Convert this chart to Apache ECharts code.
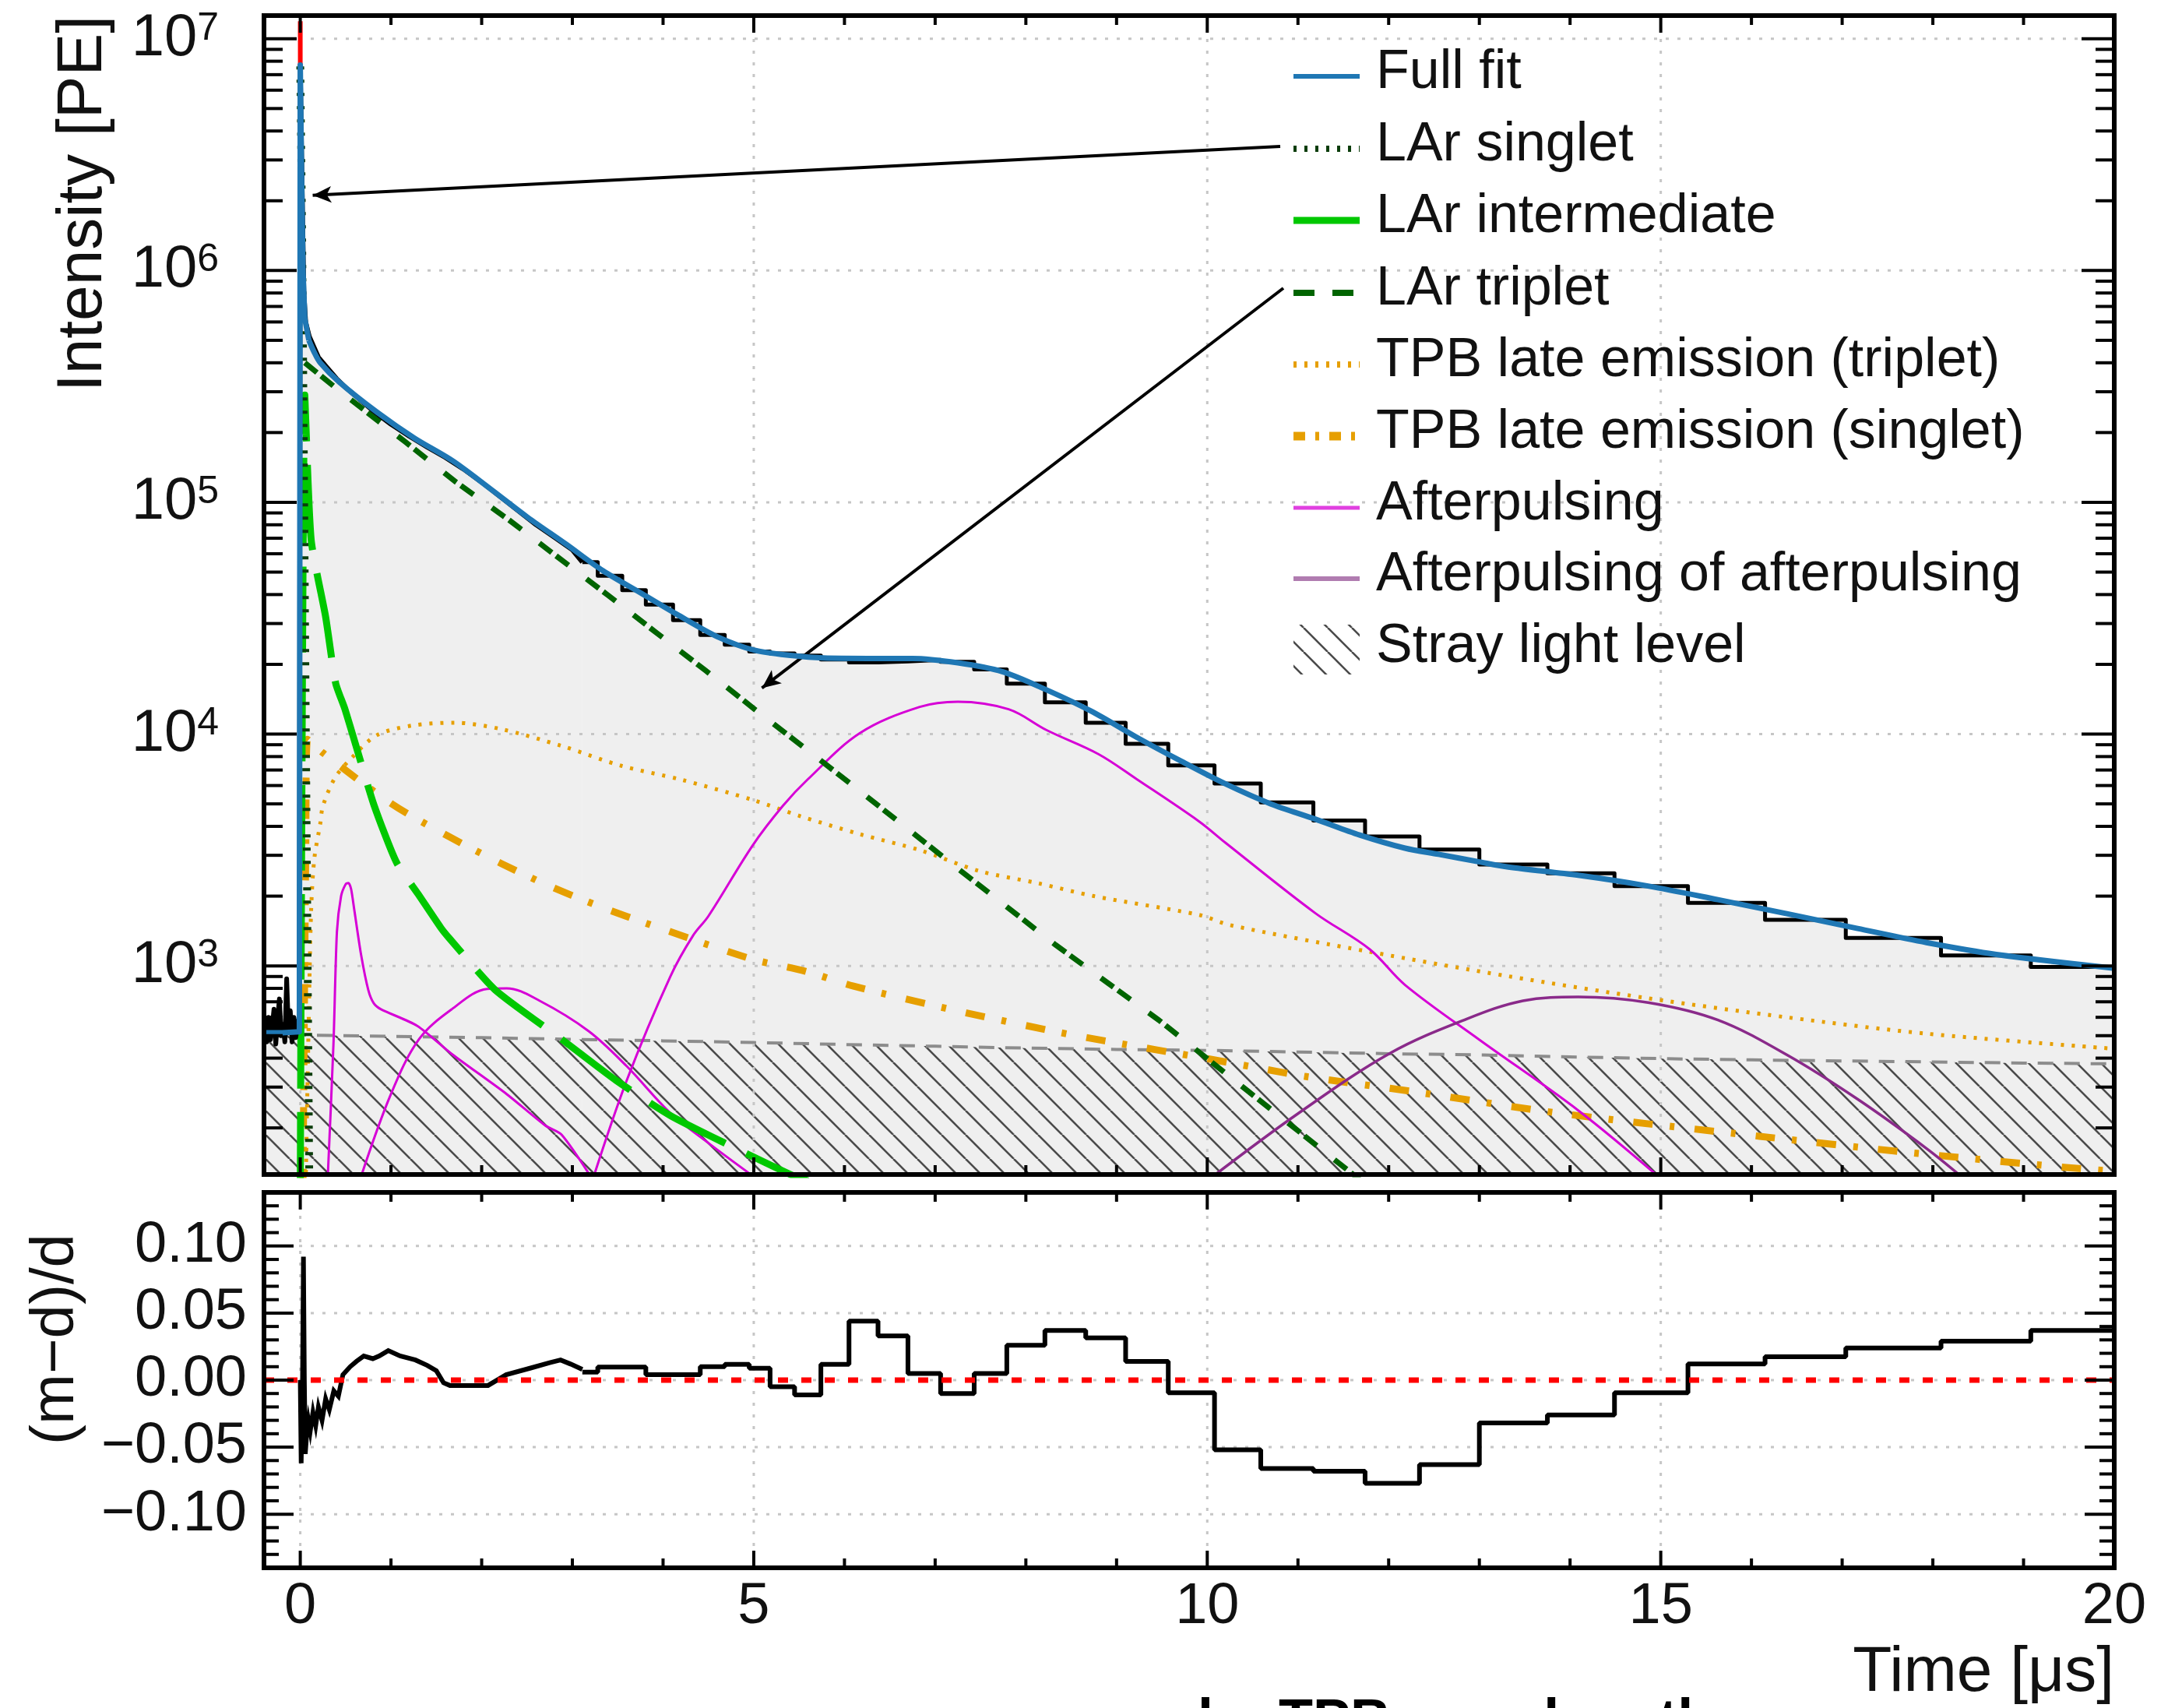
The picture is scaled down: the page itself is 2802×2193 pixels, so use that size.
<!DOCTYPE html>
<html><head><meta charset="utf-8">
<script src="https://cdn.jsdelivr.net/npm/echarts@6/dist/echarts.min.js"></script>
<style>html,body{margin:0;padding:0;background:#fff}#c{width:2802px;height:2193px}</style>
</head><body><div id="c"></div>
<script>
// ---------------- data ----------------
const xTickLabels = [0, 5, 10, 15, 20];
const yDecades = [3, 4, 5, 6, 7];
const resTickLabels = [-0.10, -0.05, 0.00, 0.05, 0.10];
const legendLabels = ['Full fit', 'LAr singlet', 'LAr intermediate', 'LAr triplet',
  'TPB late emission (triplet)', 'TPB late emission (singlet)', 'Afterpulsing',
  'Afterpulsing of afterpulsing', 'Stray light level'];

// full fit (two parts: pulse + tail)
const fitHeadX = [-0.40, -0.20, -0.01, 0.00, 0.015, 0.03, 0.05, 0.095];
const fitHeadY = [515, 515, 520, 7.7e6, 2.5e6, 1.0e6, 6.2e5, 5.0e5];
const fitTailX = [0.095, 0.15, 0.22, 0.43, 0.845, 1.26, 1.68, 2.10, 2.51, 2.93, 3.34, 3.76, 4.18, 4.60, 5.01, 5.43, 5.77, 6.26, 6.75, 7.25, 7.74, 8.23, 8.73, 9.22, 9.71, 10.20, 10.70, 11.19, 11.68, 12.18, 12.55, 13.00, 13.32, 14.09, 14.86, 15.63, 16.39, 17.17, 17.93, 18.70, 20.00];
const fitTailY = [5.0e5, 4.47e5, 4.0e5, 3.3e5, 2.45e5, 1.89e5, 1.51e5, 1.14e5, 8.6e4, 6.6e4, 5.06e4, 4.05e4, 3.24e4, 2.63e4, 2.3e4, 2.18e4, 2.13e4, 2.12e4, 2.12e4, 2.03e4, 1.86e4, 1.55e4, 1.25e4, 9.7e3, 7.65e3, 6.1e3, 5.0e3, 4.3e3, 3.67e3, 3.22e3, 3.03e3, 2.81e3, 2.67e3, 2.46e3, 2.21e3, 1.93e3, 1.68e3, 1.45e3, 1.26e3, 1.12e3, 977];
const peakTopX = [0.0, 0.0];
const peakTopY = [7.7e6, 1.19e7];

// measured data: fine-binned early part, then coarse bins (edges + contents)
const dataEarlyX = [-0.40, -0.37, -0.35, -0.33, -0.31, -0.29, -0.27, -0.25, -0.23, -0.21, -0.19, -0.17, -0.15, -0.13, -0.11, -0.09, -0.07, -0.05, -0.03, -0.01, 0.00, 0.02, 0.04, 0.06, 0.10, 0.20, 0.30, 0.40, 0.50, 0.60, 0.70, 0.80, 0.90, 1.00, 1.20, 1.40, 1.60, 1.80, 2.00, 2.20, 2.40, 2.60, 2.80, 3.00, 3.11];
const dataEarlyY = [560, 470, 600, 480, 540, 650, 460, 590, 720, 500, 560, 470, 880, 520, 640, 470, 600, 490, 560, 600, 7.7e6, 2.4e6, 8.0e5, 6.0e5, 5.2e5, 4.23e5, 3.8e5, 3.42e5, 3.13e5, 2.9e5, 2.68e5, 2.49e5, 2.32e5, 2.17e5, 1.93e5, 1.73e5, 1.56e5, 1.39e5, 1.22e5, 1.06e5, 9.2e4, 8.0e4, 7.07e4, 6.23e4, 5.52e4];
const dataBinEdges = [3.11, 3.28, 3.55, 3.81, 4.11, 4.41, 4.68, 4.95, 5.18, 5.45, 5.74, 6.05, 6.37, 6.70, 7.06, 7.43, 7.79, 8.21, 8.66, 9.10, 9.57, 10.08, 10.59, 11.17, 11.74, 12.34, 13.00, 13.75, 14.49, 15.30, 16.15, 17.04, 18.09, 19.08, 20.0];
const dataBinVals = [55200, 48200, 41800, 36200, 31000, 26800, 24300, 22700, 22300, 21800, 21000, 20400, 20600, 20900, 20500, 19000, 16500, 13700, 11200, 9080, 7330, 6120, 5070, 4240, 3620, 3180, 2740, 2510, 2210, 1870, 1580, 1320, 1110, 990];

// fit components
const singletX = [0.00, 0.02, 0.04, 0.06, 0.08, 0.10];
const singletY = [7.6e6, 1.5e6, 1.5e5, 1.2e4, 1.2e3, 110];
const intermX = [0.00, 0.05, 0.12, 0.28, 0.39, 0.49, 0.60, 0.81, 1.06, 1.30, 1.55, 1.64, 2.15, 2.88, 3.48, 4.08, 4.68, 5.44, 5.60];
const intermY = [100, 2.9e5, 6.9e4, 3.2e4, 1.66e4, 1.29e4, 9.3e3, 4.98e3, 2.8e3, 2.04e3, 1.46e3, 1.32e3, 787, 483, 321, 226, 172, 124, 118];
const tripletX = [0.05, 0.43, 1.16, 1.72, 2.30, 2.84, 3.39, 3.93, 4.47, 5.01, 6.07, 7.25, 8.33, 9.47, 10.45, 10.94, 11.63, 12.00];
const tripletY = [4.0e5, 3.03e5, 1.82e5, 1.22e5, 8.4e4, 5.8e4, 3.98e4, 2.73e4, 1.88e4, 1.28e4, 6.1e3, 2.63e3, 1.23e3, 582, 288, 203, 124, 95];
const tpbTripX = [0.06, 0.09, 0.12, 0.155, 0.22, 0.25, 0.385, 0.58, 0.845, 1.24, 1.70, 2.22, 2.88, 3.54, 4.20, 4.99, 5.51, 6.17, 6.83, 7.48, 8.14, 8.75, 9.91, 10.25, 11.79, 13.32, 14.86, 16.39, 17.93, 20.0];
const tpbTripY = [115, 500, 1750, 2900, 4100, 4900, 6500, 8000, 9900, 10900, 11200, 10500, 8900, 7300, 6360, 5200, 4430, 3700, 3160, 2570, 2270, 2000, 1660, 1500, 1150, 902, 725, 600, 510, 439];
const tpbSingX = [0.03, 0.06, 0.08, 0.25, 1.01, 1.63, 2.22, 2.76, 3.31, 3.87, 4.98, 5.57, 6.10, 7.22, 8.30, 8.87, 10.0, 10.56, 11.09, 12.24, 13.86, 16.09, 17.78, 19.47, 20.0];
const tpbSingY = [110, 3000, 9500, 8300, 5000, 3630, 2760, 2200, 1800, 1500, 1070, 948, 818, 643, 523, 475, 398, 363, 333, 288, 232, 184, 156, 135, 130];
const ap1X = [0.30, 0.366, 0.404, 0.45, 0.50, 0.53, 0.56, 0.595, 0.67, 0.75, 0.81, 0.89, 1.29, 1.67, 2.275, 2.70, 2.88, 3.21];
const ap1Y = [115, 460, 1400, 2000, 2250, 2280, 2150, 1750, 1120, 787, 690, 650, 551, 417, 280, 205, 187, 122];
const ap2X = [0.66, 1.00, 1.31, 1.67, 2.06, 2.275, 2.64, 3.18, 3.60, 4.08, 4.50, 5.04];
const ap2Y = [120, 280, 483, 650, 795, 800, 707, 523, 369, 232, 172, 120];
const ap3X = [3.21, 3.60, 4.08, 4.33, 4.50, 4.99, 5.32, 5.59, 6.17, 6.83, 7.25, 7.81, 8.23, 8.80, 9.22, 9.91, 10.20, 11.19, 11.79, 12.18, 13.00, 14.09, 15.01];
const ap3Y = [115, 321, 900, 1350, 1640, 3320, 4900, 6350, 1.01e4, 1.31e4, 1.38e4, 1.28e4, 1.04e4, 8.2e3, 6.4e3, 4.2e3, 3.4e3, 1.69e3, 1.18e3, 828, 480, 238, 120];
const aoaX = [10.02, 11.01, 12.02, 12.86, 13.48, 14.09, 14.86, 15.63, 16.40, 17.17, 17.93, 18.35];
const aoaY = [120, 232, 421, 590, 707, 735, 695, 584, 411, 266, 163, 120];
const strayX = [-0.4, 0, 1, 2, 3, 4, 5, 6, 7, 8, 9, 10, 11, 12, 13, 14, 15, 16, 17, 18, 19, 20];
const strayY = [505, 503, 497, 490, 482, 475, 467, 458, 450, 442, 436, 432, 425, 418, 413, 405, 398, 393, 389, 385, 381, 378];

// residuals (m-d)/d
const resEarlyX = [0.000, 0.010, 0.025, 0.035, 0.045, 0.055, 0.07, 0.09, 0.11, 0.14, 0.17, 0.20, 0.24, 0.28, 0.32, 0.37, 0.42, 0.47, 0.55, 0.62, 0.70, 0.80, 0.87, 0.97, 1.10, 1.27, 1.40, 1.50, 1.58, 1.65, 2.07, 2.27, 2.54, 2.75, 2.87, 2.98, 3.11];
const resEarlyY = [0.000, -0.062, 0.000, 0.092, 0.000, -0.055, -0.041, -0.030, -0.038, -0.024, -0.034, -0.020, -0.030, -0.014, -0.022, -0.008, -0.012, 0.004, 0.010, 0.014, 0.018, 0.016, 0.018, 0.022, 0.018, 0.015, 0.011, 0.007, -0.002, -0.004, -0.004, 0.004, 0.009, 0.013, 0.015, 0.012, 0.008];
const resBinEdges = [3.11, 3.28, 3.81, 4.41, 4.68, 4.95, 5.18, 5.45, 5.74, 6.05, 6.37, 6.70, 7.06, 7.43, 7.79, 8.21, 8.66, 9.10, 9.57, 10.08, 10.59, 11.17, 11.74, 12.34, 13.00, 13.75, 14.49, 15.30, 16.15, 17.04, 18.09, 19.08, 20.0];
const resBinVals = [0.006, 0.0097, 0.004, 0.010, 0.0117, 0.0088, -0.005, -0.011, 0.0117, 0.044, 0.033, 0.005, -0.010, 0.005, 0.026, 0.037, 0.0315, 0.014, -0.0095, -0.052, -0.066, -0.068, -0.077, -0.063, -0.032, -0.026, -0.0095, 0.012, 0.0175, 0.024, 0.029, 0.037];

// annotation arrow tips (data coordinates)
const arrowTipX = [0.137, 5.09];
const arrowTipY = [2.11e6, 1.58e4];

// ---------------- helpers ----------------
const FONT = 'Liberation Sans';
const X_MIN = -0.4, X_MAX = 20;
const Y_MIN = Math.pow(10, 2.1), Y_MAX = Math.pow(10, 7.1);
const R_MIN = -0.14, R_MAX = 0.14;
const zip = (xs, ys) => xs.map((x, i) => [x, ys[i]]);
const steps = (edges, vals) => edges.map((e, i) => [e, vals[Math.min(i, vals.length - 1)]]);

const BLUE = '#1f77b4', GREEN_I = '#00c800', GREEN_T = '#006400', SINGLET = '#0b3d0b',
      ORANGE = '#e69f00', MAGENTA = '#d600d6', PURPLE = '#8a2a8a';

function makeHatch() {
  const s = 31, c = document.createElement('canvas');
  c.width = s; c.height = s;
  const g = c.getContext('2d');
  g.strokeStyle = '#4a4a4a'; g.lineWidth = 2.6;
  [-s, 0, s].forEach(o => { g.beginPath(); g.moveTo(o, 0); g.lineTo(o + s, s); g.stroke(); });
  return c;
}
const hatchCanvas = makeHatch();
const hatchFill = () => ({ type: 'pattern', image: hatchCanvas, repeat: 'repeat' });

function ln(x1, y1, x2, y2, style) { return { type: 'line', shape: { x1, y1, x2, y2 }, style }; }

function line(name, xs, ys, ls, extra) {
  return Object.assign({
    type: 'line', name, xAxisIndex: 0, yAxisIndex: 0, data: zip(xs, ys),
    showSymbol: false, symbol: 'none', silent: true, z: 3,
    lineStyle: Object.assign({ cap: 'butt', join: 'round' }, ls)
  }, extra || {});
}

// gridlines
function gridDeco(top) {
  return function (params, api) {
    const cs = params.coordSys, L = cs.x, T = cs.y, R = cs.x + cs.width, B = cs.y + cs.height;
    const ch = [];
    const st = () => ({ stroke: '#c6c6c6', lineWidth: 3, lineDash: [4, 11] });
    if (top) {
      yDecades.forEach(e => { const y = api.coord([X_MIN, Math.pow(10, e)])[1]; ch.push(ln(L, y, R, y, st())); });
      xTickLabels.forEach(v => { const x = api.coord([v, Y_MIN])[0]; ch.push(ln(x, T, x, B, st())); });
    } else {
      resTickLabels.forEach(v => { const y = api.coord([X_MIN, v])[1]; ch.push(ln(L, y, R, y, st())); });
      xTickLabels.forEach(v => { const x = api.coord([v, R_MIN])[0]; ch.push(ln(x, T, x, B, st())); });
    }
    return { type: 'group', children: ch };
  };
}
// frame and inside ticks
function frameTicks(top) {
  return function (params, api) {
    const cs = params.coordSys, L = cs.x, T = cs.y, R = cs.x + cs.width, B = cs.y + cs.height;
    const ch = [];
    const st = () => ({ stroke: '#000', lineWidth: 4 });
    const yRef = top ? Y_MIN : R_MIN;
    for (let v = 0; v <= 20; v++) {
      const x = api.coord([v, yRef])[0], len = v % 5 === 0 ? 22 : 12;
      ch.push(ln(x, B, x, B - len, st())); ch.push(ln(x, T, x, T + len, st()));
    }
    if (top) {
      for (let n = 2; n <= 7; n++) for (let k = 1; k <= 9; k++) {
        const v = k * Math.pow(10, n);
        if (v < Y_MIN || v > Y_MAX) continue;
        const y = api.coord([X_MIN, v])[1], len = k === 1 ? 42 : 24;
        ch.push(ln(L, y, L + len, y, st())); ch.push(ln(R, y, R - len, y, st()));
      }
    } else {
      for (let c = -14; c <= 14; c++) {
        const y = api.coord([X_MIN, c / 100])[1], len = c % 5 === 0 ? 38 : 19;
        ch.push(ln(L, y, L + len, y, st())); ch.push(ln(R, y, R - len, y, st()));
      }
    }
    ch.push({ type: 'rect', shape: { x: L, y: T, width: R - L, height: B - T }, style: { fill: null, stroke: '#000', lineWidth: 6 } });
    return { type: 'group', children: ch };
  };
}

// ---------------- legend (graphic) ----------------
const legendRowY = [98, 191, 283, 376, 468, 560, 652, 743, 835];
const legendStyles = [
  { stroke: BLUE, w: 6 },
  { stroke: SINGLET, w: 8, dash: [4, 10] },
  { stroke: GREEN_I, w: 9 },
  { stroke: GREEN_T, w: 8, dash: [27, 23] },
  { stroke: ORANGE, w: 8, dash: [4, 10] },
  { stroke: ORANGE, w: 11, dash: [15, 13, 5, 13] },
  { stroke: '#e040e0', w: 5 },
  { stroke: '#b07cb0', w: 6 },
  { hatch: true }
];
const graphics = [];
legendLabels.forEach((t, i) => {
  const y = legendRowY[i], s = legendStyles[i];
  if (s.hatch) {
    graphics.push({ type: 'rect', shape: { x: 1661, y: y - 33, width: 85, height: 64 }, style: { fill: hatchFill() }, z: 20 });
  } else {
    graphics.push({ type: 'line', shape: { x1: 1661, y1: y, x2: 1746, y2: y }, style: { stroke: s.stroke, lineWidth: s.w, lineDash: s.dash || null }, z: 20 });
  }
  graphics.push({ type: 'text', x: 1767, y: y - 4, z: 20, style: { text: t, font: '70px "' + FONT + '"', fill: '#111', align: 'left', verticalAlign: 'middle', textAlign: 'left', textVerticalAlign: 'middle' } });
});
graphics.push({ type: 'text', x: 107, y: 20, rotation: Math.PI / 2, z: 20,
  style: { text: 'Intensity [PE]', font: '82px "' + FONT + '"', fill: '#111', align: 'right', verticalAlign: 'middle', textAlign: 'right', textVerticalAlign: 'middle' } });
graphics.push({ type: 'text', x: 72, y: 1584, rotation: Math.PI / 2, z: 20,
  style: { text: '(m\u2212d)/d', font: '78px "' + FONT + '"', fill: '#111', align: 'right', verticalAlign: 'middle', textAlign: 'right', textVerticalAlign: 'middle' } });
graphics.push({ type: 'text', x: 2715, y: 2148, z: 20,
  style: { text: 'Time [\u03bcs]', font: '82px "' + FONT + '"', fill: '#111', align: 'right', verticalAlign: 'middle', textAlign: 'right', textVerticalAlign: 'middle' } });
graphics.push({ type: 'text', x: 1538, y: 2176, z: 20,
  style: { text: 'by TPB wavelength', font: 'bold 72px "' + FONT + '"', fill: '#000', align: 'left', verticalAlign: 'top', textAlign: 'left', textVerticalAlign: 'top' } });

// ---------------- chart ----------------
const chart = echarts.init(document.getElementById('c'), null, { renderer: 'canvas' });
const axisOff = { axisLine: { show: false }, axisTick: { show: false }, splitLine: { show: false }, minorTick: { show: false } };

const option = {
  animation: false,
  backgroundColor: '#fff',
  grid: [
    { left: 339, top: 20, width: 2376, height: 1488 },
    { left: 339, top: 1531, width: 2376, height: 482 }
  ],
  xAxis: [
    Object.assign({ gridIndex: 0, type: 'value', min: X_MIN, max: X_MAX, axisLabel: { show: false } }, axisOff),
    Object.assign({ gridIndex: 1, type: 'value', min: X_MIN, max: X_MAX, minInterval: 5, maxInterval: 5,
      axisLabel: { show: true, margin: 14, fontSize: 74, fontFamily: FONT, color: '#111',
        formatter: v => (xTickLabels.some(t => Math.abs(t - v) < 1e-6) ? String(Math.round(v)) : '') } }, axisOff)
  ],
  yAxis: [
    Object.assign({ gridIndex: 0, type: 'log', logBase: 10, min: Y_MIN, max: Y_MAX,
      axisLabel: { show: true, margin: 58, color: '#111',
        formatter: v => { const e = Math.log10(v); const r = Math.round(e);
          return (Math.abs(e - r) < 1e-6 && yDecades.indexOf(r) >= 0) ? '{b|10}{s|' + r + '}' : ''; },
        rich: {
          b: { fontSize: 76, fontFamily: FONT, color: '#111', lineHeight: 76, verticalAlign: 'bottom' },
          s: { fontSize: 50, fontFamily: FONT, color: '#111', lineHeight: 75, verticalAlign: 'top', padding: [0, 0, 25, 0] }
        } } }, axisOff),
    Object.assign({ gridIndex: 1, type: 'value', min: R_MIN, max: R_MAX, minInterval: 0.05, maxInterval: 0.05,
      axisLabel: { show: true, margin: 22, fontSize: 74, fontFamily: FONT, color: '#111',
        formatter: v => { const c = Math.round(v * 100);
          if (Math.abs(v * 100 - c) > 1e-6 || c % 5 !== 0 || Math.abs(c) > 10) return '';
          return (c < 0 ? '\u2212' : '') + (Math.abs(c) / 100).toFixed(2); } } }, axisOff)
  ],
  graphic: { elements: graphics },
  series: [
    // grey area under the data
    line('data area early', dataEarlyX, dataEarlyY, { width: 0, color: '#efefef' },
      { z: 1, areaStyle: { color: '#efefef', opacity: 1, origin: 'start' } }),
    Object.assign(line('data area bins', [], [], { width: 0, color: '#efefef' },
      { z: 1, step: 'end', areaStyle: { color: '#efefef', opacity: 1, origin: 'start' } }), { data: steps(dataBinEdges, dataBinVals) }),
    // stray light level (hatched)
    line('Stray light level', strayX, strayY, { color: '#8c8c8c', width: 4, type: [20, 14] },
      { z: 1, areaStyle: { color: hatchFill(), opacity: 1, origin: 'start' } }),
    // gridlines
    { type: 'custom', xAxisIndex: 0, yAxisIndex: 0, data: [[0, 1000]], renderItem: gridDeco(true), z: 2, silent: true },
    { type: 'custom', xAxisIndex: 1, yAxisIndex: 1, data: [[0, 0]], renderItem: gridDeco(false), z: 2, silent: true },
    // components
    line('TPB late emission (triplet)', tpbTripX, tpbTripY, { color: ORANGE, width: 5, type: [4, 10] }, { smooth: 0.3 }),
    line('TPB late emission (singlet)', tpbSingX, tpbSingY, { color: ORANGE, width: 9, type: [25, 22, 6, 26] }, { smooth: 0.3 }),
    line('Afterpulsing', ap1X, ap1Y, { color: MAGENTA, width: 3 }, { smooth: 0.25 }),
    line('Afterpulsing 2', ap2X, ap2Y, { color: MAGENTA, width: 3 }, { smooth: 0.35 }),
    line('Afterpulsing 3', ap3X, ap3Y, { color: MAGENTA, width: 3 }, { smooth: 0.35 }),
    line('Afterpulsing of afterpulsing', aoaX, aoaY, { color: PURPLE, width: 3.5 }, { smooth: 0.35 }),
    line('LAr intermediate', intermX, intermY, { color: GREEN_I, width: 9, type: [110, 30] }, { smooth: 0.2 }),
    line('LAr triplet', tripletX, tripletY, { color: GREEN_T, width: 7, type: [20, 7, 20, 29] }),
    line('LAr singlet', singletX, singletY, { color: SINGLET, width: 10, type: [4, 13] }),
    // data
    line('data early', dataEarlyX, dataEarlyY, { color: '#000', width: 6 }, { z: 4 }),
    Object.assign(line('data bins', [], [], { color: '#000', width: 5 }, { z: 4, step: 'end' }), { data: steps(dataBinEdges, dataBinVals) }),
    line('peak top', peakTopX, peakTopY, { color: '#ff0000', width: 6 }, { z: 4 }),
    // full fit
    line('Full fit head', fitHeadX, fitHeadY, { color: BLUE, width: 7 }, { z: 5 }),
    line('Full fit', fitTailX, fitTailY, { color: BLUE, width: 7 }, { z: 5, smooth: 0.3,
      markLine: { silent: true, symbol: ['none', 'arrow'], symbolSize: [16, 24], animation: false,
        lineStyle: { color: '#000', width: 4, type: 'solid' }, label: { show: false }, emphasis: { disabled: true },
        data: [
          [{ x: 1644, y: 188 }, { coord: [arrowTipX[0], arrowTipY[0]] }],
          [{ x: 1648, y: 370 }, { coord: [arrowTipX[1], arrowTipY[1]] }]
        ] } }),
    // residual panel
    { type: 'line', name: 'zero', xAxisIndex: 1, yAxisIndex: 1, data: [[X_MIN, 0], [X_MAX, 0]], showSymbol: false, symbol: 'none', silent: true, z: 5,
      lineStyle: { color: '#ff0000', width: 7, type: [13, 17] } },
    { type: 'line', name: 'res early', xAxisIndex: 1, yAxisIndex: 1, data: zip(resEarlyX, resEarlyY), showSymbol: false, symbol: 'none', silent: true, z: 4,
      lineStyle: { color: '#000', width: 6, join: 'miter' } },
    { type: 'line', name: 'res bins', xAxisIndex: 1, yAxisIndex: 1, data: steps(resBinEdges, resBinVals), step: 'end', showSymbol: false, symbol: 'none', silent: true, z: 4,
      lineStyle: { color: '#000', width: 6 } },
    // frames + ticks
    { type: 'custom', xAxisIndex: 0, yAxisIndex: 0, data: [[0, 1000]], renderItem: frameTicks(true), z: 10, silent: true },
    { type: 'custom', xAxisIndex: 1, yAxisIndex: 1, data: [[0, 0]], renderItem: frameTicks(false), z: 10, silent: true }
  ]
};
chart.setOption(option);
</script></body></html>
